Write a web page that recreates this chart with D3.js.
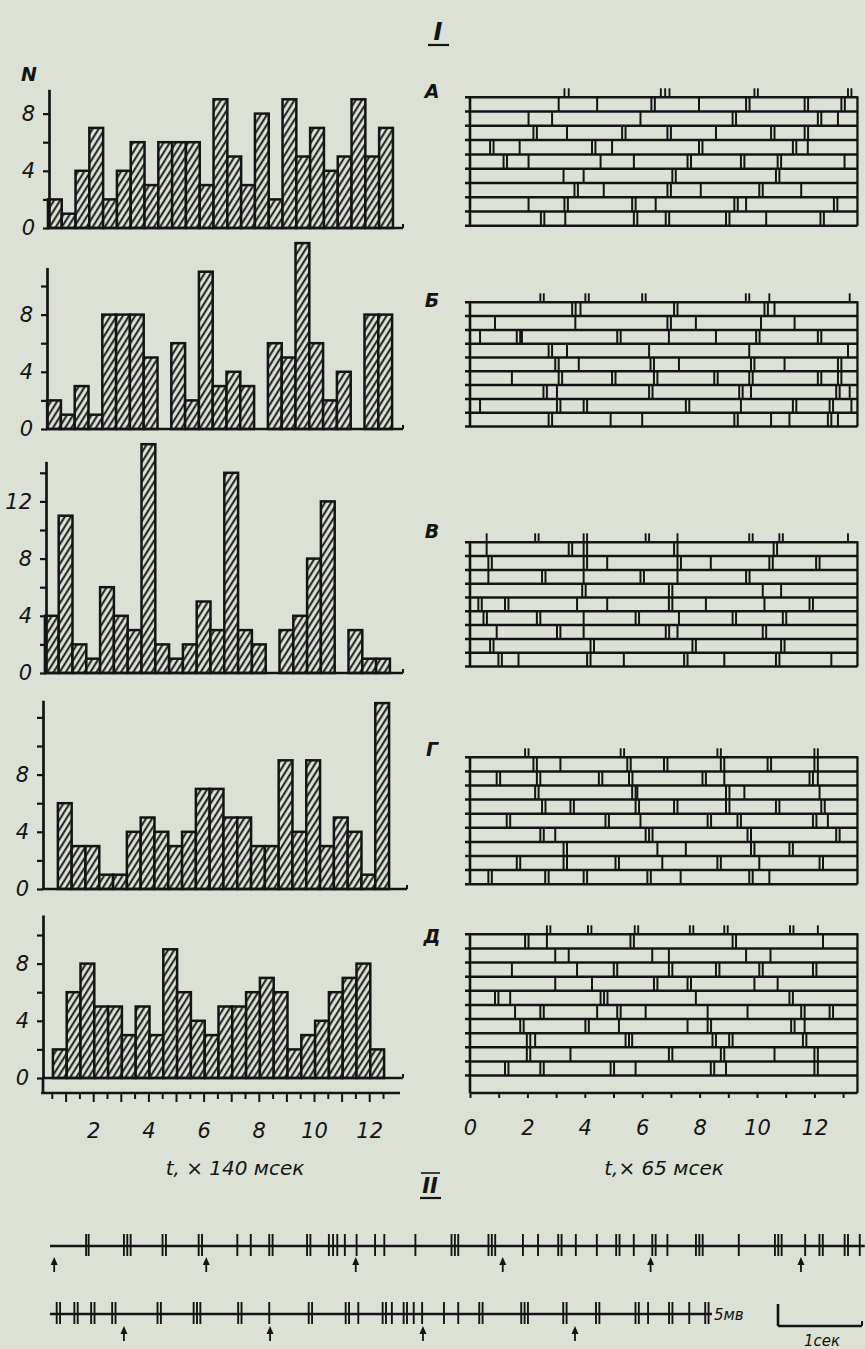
<!DOCTYPE html>
<html><head><meta charset="utf-8">
<script src="https://cdn.jsdelivr.net/npm/d3@7/dist/d3.min.js"></script>
<style>html,body{margin:0;padding:0;background:#dbe1d4;}svg{display:block}</style>
</head><body><svg id="chart" width="865" height="1349"></svg>
<script>
// ===== DATA =====
// Histograms (N per bin of 0.5 units of 140 ms), panels А–Д
const histA=[2,1,4,7,2,4,6,3,6,6,6,3,9,5,3,8,2,9,5,7,4,5,9,5,7];
const histB=[2,1,3,1,8,8,8,5,0,6,2,11,3,4,3,0,6,5,13,6,2,4,0,8,8];
const histV=[4,11,2,1,6,4,3,16,2,1,2,5,3,14,3,2,0,3,4,8,12,0,3,1,1];
const histG=[6,3,3,1,1,4,5,4,3,4,7,7,5,5,3,3,9,4,9,3,5,4,1,13];
const histD=[2,6,8,5,5,3,5,3,9,6,4,3,5,5,6,7,6,2,3,4,6,7,8,2];
const histStart=[0.36,0.33,0.25,0.72,0.54];   // time of first bin (×140 ms)
const histTop=[9.7,11.3,14.8,13.2,11.4];      // y-axis extent (N)
const histYLabels=[[0,4,8],[0,4,8],[0,4,8,12],[0,4,8],[0,4,8]];
const histXLabels=[2,4,6,8,10,12];
const histXTitle="t, × 140 мсек";
const rasterXLabels=[0,2,4,6,8,10,12];
const rasterXTitle="t,× 65 мсек";
const panelLetters=["А","Б","В","Г","Д"];

// Rasters: spike times per sweep (×65 ms)
const rasterA=[
 [3.09,4.43,6.32,6.44,7.98,9.62,9.74,11.66,11.78,12.94,13.06],
 [2.04,2.86,5.94,9.15,9.27,12.12,12.24,12.82],
 [2.21,2.33,3.38,5.30,5.42,6.88,7.00,8.57,10.49,10.61,11.66,11.78],
 [0.70,0.82,1.73,4.25,4.37,4.95,7.98,8.10,11.25,11.37,11.77],
 [1.17,1.29,2.04,4.55,5.71,7.58,7.70,9.44,9.56,10.72,10.84,13.05],
 [3.26,3.96,7.05,7.17,10.66,10.78],
 [3.64,3.76,4.66,6.88,7.00,8.04,10.08,10.20,11.54],
 [2.04,3.29,3.41,5.65,5.77,6.47,9.21,9.33,9.62,12.68,12.80],
 [2.47,2.59,3.32,5.71,5.83,6.82,6.94,8.92,9.04,10.32,12.21,12.33]];
const rasterB=[
 [3.56,3.68,3.85,7.11,7.23,10.26,10.38,10.61],
 [0.87,3.67,6.88,7.00,7.87,10.14,11.31],
 [0.35,1.63,1.75,1.81,5.13,5.25,6.93,8.57,9.97,10.09,12.12,12.24],
 [2.74,2.86,3.38,6.24,9.73,13.17],
 [2.97,3.09,3.79,6.29,6.41,7.28,9.79,9.91,10.96,12.82,12.94],
 [1.46,3.09,3.21,4.95,5.07,6.41,6.53,8.51,8.63,9.73,9.85,12.12,12.24,12.82,12.94],
 [2.56,2.68,3.03,6.24,6.36,9.38,9.50,9.79,12.76,12.88,13.23],
 [0.35,3.03,3.15,3.96,4.08,7.52,7.64,9.44,11.25,11.37,12.53,12.65,13.29],
 [2.74,2.86,4.90,6.00,9.21,9.33,10.49,11.13,12.47,12.59,12.82]];
const rasterV=[
 [0.58,3.44,3.56,3.96,4.08,7.11,7.23,10.58,10.70],
 [0.64,0.76,3.96,4.08,4.78,7.23,7.35,8.39,10.43,10.55,12.06,12.18],
 [0.64,2.51,2.63,3.96,5.94,6.06,7.23,9.62,9.74],
 [3.91,4.03,6.93,7.05,10.20,10.84],
 [0.29,0.41,1.22,1.34,3.73,4.78,6.93,7.05,8.22,10.26,11.83,11.95],
 [0.47,0.59,2.33,2.45,3.96,5.77,5.89,7.28,9.15,9.27,10.90,11.02],
 [0.93,3.03,3.15,3.96,6.82,6.94,7.23,10.20,10.32],
 [0.70,0.82,4.20,4.32,7.75,7.87,10.84,10.96],
 [0.99,1.11,1.69,4.08,4.20,5.36,7.46,7.58,8.86,10.66,10.78,12.59]];
const rasterG=[
 [2.21,2.33,3.15,5.48,5.60,6.76,6.88,8.74,8.86,10.37,10.49,12.00,12.12],
 [0.93,1.05,2.33,2.45,4.49,4.61,5.54,5.66,8.10,8.22,8.86,11.83,11.95,12.12],
 [2.27,2.39,5.65,5.77,5.83,8.92,9.04,9.56,12.18],
 [2.51,2.63,3.50,3.62,5.77,5.89,7.11,7.23,8.92,9.04,10.66,10.78,12.24,12.36],
 [1.28,1.40,4.72,4.84,5.94,8.28,8.40,9.32,9.44,11.95,12.07,12.47],
 [2.45,2.57,2.97,6.12,6.24,6.36,9.67,9.79,12.76,12.88],
 [3.26,3.38,6.53,7.52,9.79,9.91,11.13,11.25],
 [1.63,1.75,3.26,3.38,5.07,5.19,6.70,8.62,8.74,10.08,12.18,12.30],
 [0.64,0.76,2.62,2.74,3.96,4.08,6.18,6.30,7.34,9.73,9.85,10.43]];
const rasterD=[
 [1.92,2.04,2.68,5.59,5.71,9.15,9.27,12.30],
 [2.97,3.44,6.35,6.93,9.62,10.47],
 [1.46,3.73,5.01,5.13,6.93,7.05,8.57,8.69,10.08,10.20,11.95,12.07],
 [2.97,4.25,6.41,6.53,7.58,7.70,9.91,10.72],
 [0.87,0.99,1.40,4.55,4.67,4.79,7.87,11.13,11.25],
 [1.57,2.45,2.57,4.43,5.13,5.25,6.12,8.28,9.67,11.54,11.66,12.53,12.65],
 [1.75,1.87,4.02,4.14,5.19,7.58,8.28,8.40,11.19,11.31,11.66],
 [1.98,2.10,2.27,5.42,5.54,5.65,8.45,8.57,9.03,9.15,11.60,11.72],
 [1.98,2.10,3.50,6.93,7.05,8.74,8.86,10.61,12.00,12.12],
 [1.22,1.34,2.45,2.57,4.90,5.02,5.77,8.39,8.51,8.92,12.00,12.12]];
// marks above each raster
const topA=[3.29,3.44,6.65,6.80,6.95,9.91,10.03,13.17,13.29];
const topB=[2.45,2.57,4.02,4.14,6.00,6.12,9.61,9.73,10.43,13.23];
const topV=[0.58,2.27,2.39,3.96,4.08,6.12,6.24,7.23,9.73,9.85,10.78,10.90,13.17];
const topG=[1.92,2.04,5.25,5.37,8.62,8.74,12.00,12.12];
const topD=[2.68,2.80,4.11,4.23,5.74,5.86,7.66,7.78,8.86,8.98,11.15,11.27,12.12];

// Part II: continuous spike records (seconds)
const trace1=[0.43,0.46,0.88,0.92,0.96,1.34,1.38,1.77,1.81,2.23,2.39,2.61,2.65,3.06,3.10,3.32,3.37,3.42,3.51,3.65,3.87,3.98,4.35,4.78,4.82,4.86,5.22,5.26,5.30,5.63,5.81,6.05,6.09,6.26,6.51,6.74,6.78,6.95,7.17,7.21,7.35,7.69,7.73,7.77,8.20,8.63,8.67,8.71,8.99,9.16,9.20,9.46,9.50,9.64];
const trace1Arrows=[0.05,1.86,3.64,5.39,7.15,8.94];
const trace1End=9.7;
const trace2=[0.08,0.12,0.29,0.33,0.49,0.53,0.74,0.78,1.28,1.32,1.71,1.75,1.79,2.24,2.28,2.61,3.08,3.12,3.52,3.56,3.67,3.96,4.00,4.07,4.21,4.25,4.33,4.43,4.69,4.86,5.11,5.15,5.61,5.65,5.69,6.11,6.15,6.50,6.54,6.97,7.01,7.12,7.37,7.41,7.61,7.80,7.84];
const trace2Arrows=[0.88,2.62,4.44,6.25];
const trace2End=7.88;

// ===== DRAWING =====
const ink="#141414", bg="#dbe1d4";
const FONT="'DejaVu Sans', sans-serif";
const svg=d3.select("#chart");
svg.append("rect").attr("width",865).attr("height",1349).attr("fill",bg);
const defs=svg.append("defs");
const pat=defs.append("pattern").attr("id","hatch").attr("patternUnits","userSpaceOnUse")
  .attr("width",5.2).attr("height",12).attr("patternTransform","rotate(32)");
pat.append("rect").attr("width",5.2).attr("height",12).attr("fill",bg);
pat.append("line").attr("x1",1.2).attr("x2",1.2).attr("y1",-1).attr("y2",13).attr("stroke",ink).attr("stroke-width",1.9);

function txt(g,x,y,s,size,opts={}){
  return g.append("text").attr("x",x).attr("y",y).text(s)
    .attr("font-family",FONT).attr("font-size",size).attr("font-style","italic")
    .attr("font-weight",opts.bold?"bold":"normal").attr("fill",ink)
    .attr("text-anchor",opts.anchor||"start");
}

// Title I
txt(svg,438,40,"I",24,{anchor:"middle",bold:true});
svg.append("line").attr("x1",428).attr("x2",449).attr("y1",45).attr("y2",45).attr("stroke",ink).attr("stroke-width",2.2);

// ---- Histograms ----
const hists=[histA,histB,histV,histG,histD];
const hLayout=[
 {base:228,ax:49,end:403},
 {base:429,ax:47,end:403},
 {base:673,ax:46,end:403},
 {base:889,ax:43,end:407},
 {base:1078,ax:43,end:403}];
const unitPx=14.3;
const xH=d3.scaleLinear().domain([0,13]).range([38,38+13*27.6]);
const binW=0.5;
hists.forEach((vals,p)=>{
  const L=hLayout[p], top=histTop[p];
  const y=d3.scaleLinear().domain([0,top]).range([L.base,L.base-unitPx*top]);
  const g=svg.append("g");
  const bars=vals.map((v,i)=>({v,t:histStart[p]+i*binW})).filter(d=>d.v>0);
  g.selectAll("rect").data(bars).join("rect")
    .attr("x",d=>xH(d.t)).attr("width",xH(binW)-xH(0))
    .attr("y",d=>y(d.v)).attr("height",d=>L.base-y(d.v))
    .attr("fill","url(#hatch)").attr("stroke",ink).attr("stroke-width",2.5);
  // baseline
  g.append("line").attr("x1",L.ax-1).attr("x2",L.end).attr("y1",L.base).attr("y2",L.base)
    .attr("stroke",ink).attr("stroke-width",2.7);
  g.append("line").attr("x1",L.end).attr("x2",L.end).attr("y1",L.base).attr("y2",L.base-4)
    .attr("stroke",ink).attr("stroke-width",2);
  // y axis
  const ticks=d3.range(0,top,2);
  const ax=g.append("g").attr("transform",`translate(${L.ax},0)`)
    .call(d3.axisLeft(y).tickValues(ticks).tickSize(6).tickSizeOuter(0).tickPadding(8)
      .tickFormat(d=>histYLabels[p].includes(d)?d:""));
  ax.select(".domain").attr("stroke",ink).attr("stroke-width",2.7);
  ax.selectAll(".tick line").attr("stroke",ink).attr("stroke-width",2.2);
  ax.selectAll(".tick text").attr("font-family",FONT).attr("font-size",21)
    .attr("font-style","italic").attr("fill",ink);
  if(p===4){
    g.append("line").attr("x1",L.ax).attr("x2",L.ax).attr("y1",L.base).attr("y2",1094)
      .attr("stroke",ink).attr("stroke-width",2.7);
  }
});
txt(svg,29,81,"N",19,{anchor:"middle",bold:true});

// histogram time axis
{
  const g=svg.append("g").attr("transform","translate(0,1093)");
  g.append("line").attr("x1",41).attr("x2",400).attr("y1",0).attr("y2",0).attr("stroke",ink).attr("stroke-width",2.7);
  const minor=g.append("g").call(d3.axisBottom(xH).tickValues(d3.range(0.5,12.6,1)).tickSize(6).tickSizeOuter(0).tickFormat(""));
  const major=g.append("g").call(d3.axisBottom(xH).tickValues(d3.range(1,12.6,1)).tickSize(9).tickSizeOuter(0)
    .tickFormat(d=>histXLabels.includes(d)?d:""));
  [minor,major].forEach(a=>{
    a.select(".domain").remove();
    a.selectAll(".tick line").attr("stroke",ink).attr("stroke-width",2);
  });
  major.selectAll(".tick text").attr("y",45).attr("dy",0).attr("font-family",FONT).attr("font-size",21)
    .attr("font-style","italic").attr("fill",ink);
  txt(svg,235,1175,histXTitle,20,{anchor:"middle"});
}

// ---- Rasters ----
const rasters=[rasterA,rasterB,rasterV,rasterG,rasterD];
const tops=[topA,topB,topV,topG,topD];
const rLayout=[
 {y0:97.3,h:14.27,letterY:98},
 {y0:302.3,h:13.8,letterY:307},
 {y0:542.3,h:13.8,letterY:538},
 {y0:757.3,h:14.1,letterY:756},
 {y0:934.3,h:14.13,letterY:943}];
const xR=d3.scaleLinear().domain([0,13]).range([470,470+13*28.7]);
const tEnd=13.5;
rasters.forEach((rows,p)=>{
  const L=rLayout[p];
  const yR=d3.scaleLinear().domain([0,rows.length]).range([L.y0,L.y0+rows.length*L.h]);
  const g=svg.append("g");
  const bottom=p===4?1093:yR(rows.length);
  g.selectAll("line.h").data(d3.range(rows.length+1)).join("line").attr("class","h")
    .attr("x1",xR(0)-5).attr("x2",xR(tEnd)).attr("y1",d=>yR(d)).attr("y2",d=>yR(d))
    .attr("stroke",ink).attr("stroke-width",2.5);
  g.append("line").attr("x1",xR(0)).attr("x2",xR(0)).attr("y1",yR(0)).attr("y2",bottom)
    .attr("stroke",ink).attr("stroke-width",2.6);
  g.append("line").attr("x1",xR(tEnd)).attr("x2",xR(tEnd)).attr("y1",yR(0)-1).attr("y2",bottom)
    .attr("stroke",ink).attr("stroke-width",2.3);
  const sp=rows.flatMap((r,i)=>r.map(t=>({t,i})));
  g.selectAll("line.s").data(sp).join("line").attr("class","s")
    .attr("x1",d=>xR(d.t)).attr("x2",d=>xR(d.t)).attr("y1",d=>yR(d.i)).attr("y2",d=>yR(d.i+1))
    .attr("stroke",ink).attr("stroke-width",2);
  g.selectAll("line.m").data(tops[p]).join("line").attr("class","m")
    .attr("x1",d=>xR(d)).attr("x2",d=>xR(d)).attr("y1",yR(0)-9).attr("y2",yR(0))
    .attr("stroke",ink).attr("stroke-width",1.9);
  txt(svg,432,L.letterY,panelLetters[p],19,{anchor:"middle",bold:true});
});
// raster time axis
{
  const g=svg.append("g").attr("transform","translate(0,1093)");
  g.append("line").attr("x1",xR(0)).attr("x2",xR(tEnd)).attr("y1",0).attr("y2",0).attr("stroke",ink).attr("stroke-width",2.7);
  const a=g.append("g").call(d3.axisBottom(xR).tickValues(d3.range(0,14)).tickSize(5).tickSizeOuter(0)
    .tickFormat(d=>rasterXLabels.includes(d)?d:""));
  a.select(".domain").remove();
  a.selectAll(".tick line").attr("stroke",ink).attr("stroke-width",2);
  a.selectAll(".tick text").attr("y",42).attr("dy",0).attr("font-family",FONT).attr("font-size",21)
    .attr("font-style","italic").attr("fill",ink);
  txt(svg,664,1175,rasterXTitle,20,{anchor:"middle"});
}

// ---- Part II ----
txt(svg,430,1193,"II",21,{anchor:"middle",bold:true});
svg.append("line").attr("x1",420).attr("x2",441).attr("y1",1198).attr("y2",1198).attr("stroke",ink).attr("stroke-width",2.2);
svg.append("line").attr("x1",421).attr("x2",440).attr("y1",1173).attr("y2",1173).attr("stroke",ink).attr("stroke-width",1.6);

const xT=d3.scaleLinear().domain([0,1]).range([50,134]);
function trace(spikes,arrows,end,yLine,arrowTop){
  const g=svg.append("g");
  g.append("line").attr("x1",xT(0)).attr("x2",xT(end)).attr("y1",yLine).attr("y2",yLine)
    .attr("stroke",ink).attr("stroke-width",2.7);
  g.selectAll("line.sp").data(spikes).join("line").attr("class","sp")
    .attr("x1",d=>xT(d)).attr("x2",d=>xT(d)).attr("y1",yLine-12).attr("y2",yLine+10)
    .attr("stroke",ink).attr("stroke-width",1.9);
  const ar=g.selectAll("g.ar").data(arrows).join("g").attr("class","ar")
    .attr("transform",d=>`translate(${xT(d)},${arrowTop})`);
  ar.append("line").attr("x1",0).attr("x2",0).attr("y1",4).attr("y2",15).attr("stroke",ink).attr("stroke-width",1.8);
  ar.append("path").attr("d","M0,0 L-3.5,8 L3.5,8 Z").attr("fill",ink);
}
trace(trace1,trace1Arrows,trace1End,1246,1257);
trace(trace2,trace2Arrows,trace2End,1314,1326);

// calibration
{
  const g=svg.append("g");
  txt(g,714,1320,"5мв",15,{});
  const x0=778, yb=1326;
  g.append("line").attr("x1",x0).attr("x2",x0).attr("y1",1304).attr("y2",yb).attr("stroke",ink).attr("stroke-width",2.6);
  g.append("line").attr("x1",x0).attr("x2",x0+(xT(1)-xT(0))).attr("y1",yb).attr("y2",yb).attr("stroke",ink).attr("stroke-width",2.6);
  g.append("line").attr("x1",x0+(xT(1)-xT(0))).attr("x2",x0+(xT(1)-xT(0))).attr("y1",yb).attr("y2",yb-5).attr("stroke",ink).attr("stroke-width",2);
  txt(g,822,1346,"1сек",15,{anchor:"middle"});
}
</script></body></html>
